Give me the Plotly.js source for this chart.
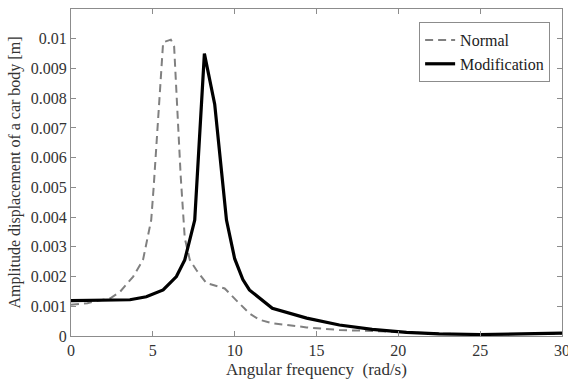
<!DOCTYPE html>
<html>
<head>
<meta charset="utf-8">
<script src="https://cdn.plot.ly/plotly-3.0.1.min.js"></script>
<style>html,body{margin:0;padding:0;background:#fff;overflow:hidden;}#chart{width:568px;height:385px;}</style>
</head>
<body>
<div id="chart"></div>
<script>
const normalX = [0, 1, 1.4, 2.4, 3, 3.8, 4.4, 4.9, 5.05, 5.63, 6.1, 6.3, 6.7, 6.95, 7.26, 7.66, 8.27, 8.8, 9.39, 10.1, 10.9, 11.5, 12.3, 14.4, 16.4, 18.4, 20.5, 22.5, 25, 27.5, 30];
const normalY = [0.00105, 0.0011, 0.00116, 0.00127, 0.00149, 0.002, 0.00256, 0.0039, 0.0050, 0.00988, 0.00997, 0.00975, 0.0054, 0.0033, 0.00256, 0.00222, 0.00178, 0.0017, 0.0016, 0.0012, 0.00076, 0.00055, 0.00043, 0.00029, 0.0002, 0.00017, 0.00012, 0.00008, 0.00005, 0.00006, 0.00008];
const modX = [0, 1, 2, 3, 3.6, 4.6, 5, 5.63, 6.44, 6.95, 7.56, 8.15, 8.78, 9.23, 9.5, 10, 10.5, 10.9, 11.5, 12.3, 14.4, 16.4, 18.4, 20.5, 22.5, 25, 27.5, 30];
const modY = [0.00119, 0.0012, 0.0012, 0.00121, 0.00122, 0.00132, 0.0014, 0.00155, 0.002, 0.00256, 0.0039, 0.0095, 0.0078, 0.0054, 0.0039, 0.0026, 0.0019, 0.00155, 0.00128, 0.00093, 0.0006, 0.00037, 0.00022, 0.00012, 0.00007, 0.00005, 0.00007, 0.0001];
const xTicks = [0, 5, 10, 15, 20, 25, 30];
const yTickVals = [0, 0.001, 0.002, 0.003, 0.004, 0.005, 0.006, 0.007, 0.008, 0.009, 0.01];
const yTickText = ["0", "0.001", "0.002", "0.003", "0.004", "0.005", "0.006", "0.007", "0.008", "0.009", "0.01"];

const fam = "Liberation Serif";
const traces = [
  {x: normalX, y: normalY, name: "Normal", mode: "lines", line: {color: "#808080", width: 2, dash: "8px,5px"}},
  {x: modX, y: modY, name: "Modification", mode: "lines", line: {color: "#000000", width: 3.2}}
];
function axisBase() {
  return {
    showline: true, linecolor: "#8c8c8c", linewidth: 1, mirror: "ticks",
    ticks: "inside", ticklen: 5, tickcolor: "#8c8c8c", showgrid: false, zeroline: false,
    ticklabeloverflow: "allow",
    tickfont: {family: fam, size: 16, color: "#333"}
  };
}
const layout = {
  width: 568, height: 385,
  margin: {l: 71, r: 6, t: 9, b: 49},
  paper_bgcolor: "#fff", plot_bgcolor: "#fff",
  font: {family: fam, color: "#333", size: 16},
  showlegend: true,
  legend: {x: 0.709, y: 0.96, xanchor: "left", yanchor: "top", bgcolor: "#fff",
    bordercolor: "#8c8c8c", borderwidth: 1, font: {family: fam, size: 16, color: "#222"},
    tracegroupgap: 0},
  xaxis: Object.assign(axisBase(), {range: [0, 30], tickvals: xTicks,
    title: {text: "Angular frequency  (rad/s)", font: {family: fam, size: 17, color: "#333"}, standoff: 4}}),
  yaxis: Object.assign(axisBase(), {range: [0, 0.011], tickvals: yTickVals, ticktext: yTickText,
    title: {text: "Amplitude displacement of a car body [m]", font: {family: fam, size: 16, color: "#333"}, standoff: 6}})
};
Plotly.newPlot("chart", traces, layout, {displayModeBar: false, staticPlot: true});
</script>
</body>
</html>
